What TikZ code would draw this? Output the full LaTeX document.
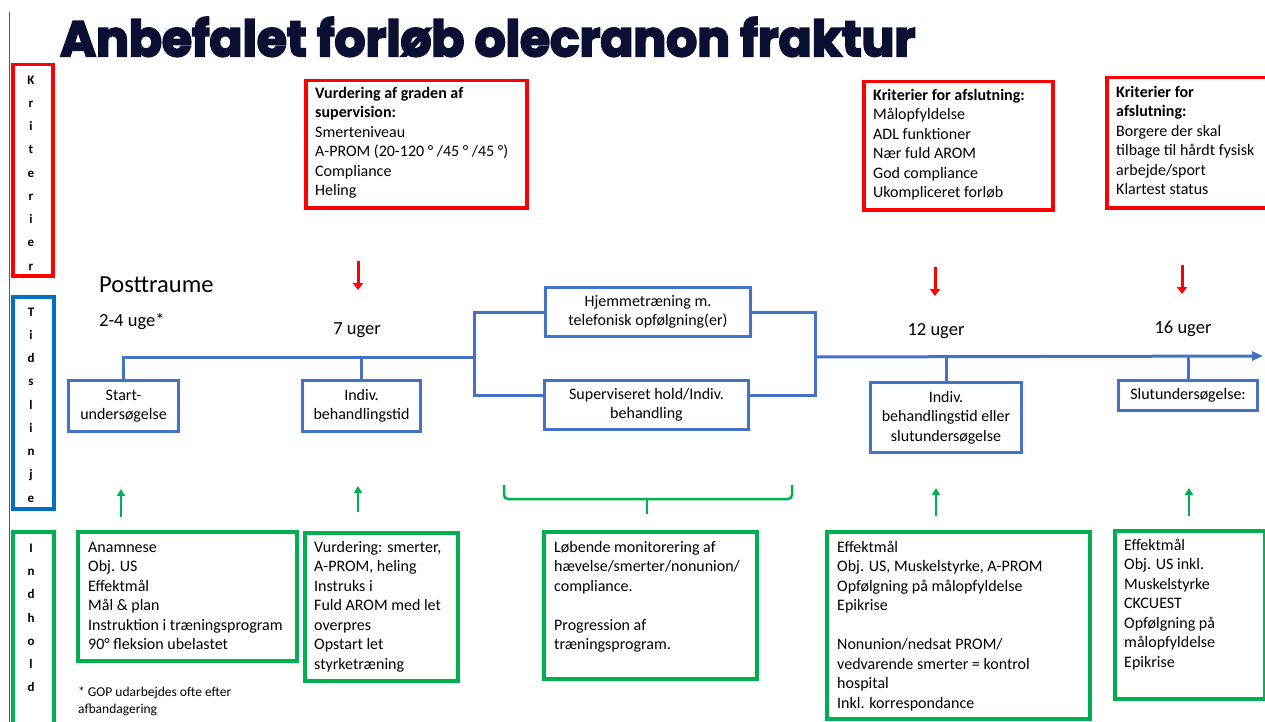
\documentclass[tikz,border=0pt]{standalone}
\usepackage{fontspec}
\setmainfont{Carlito}
\newfontfamily\titlefont{Poppins}[BoldFeatures={FakeBold=4}]
\usetikzlibrary{arrows.meta,calc}
\definecolor{kred}{HTML}{FF0000}
\definecolor{tblue}{HTML}{4472C4}
\definecolor{sblue}{HTML}{0070C0}
\definecolor{igreen}{HTML}{00B050}
\definecolor{titlec}{HTML}{0B1033}
\tikzset{
  bbox/.style={draw=tblue, line width=3pt, align=center, inner sep=0pt, anchor=north west, font=\fontsize{16}{19.5}\selectfont},
  rbox/.style={draw=kred, line width=3.5pt, anchor=north west, inner sep=0pt},
  gbox/.style={draw=igreen, line width=3.5pt, anchor=north west, inner sep=0pt},
  txt/.style={anchor=north west, inner sep=0pt, align=left, font=\fontsize{16}{19.5}\selectfont},
  lbl/.style={inner sep=0pt, font=\fontsize{18.5}{22}\selectfont},
  side/.style={inner sep=0pt, align=center, font=\bfseries\fontsize{13}{23.25}\selectfont},
  tline/.style={draw=tblue, line width=3pt},
  redarrow/.style={draw=kred, line width=3pt, -{Triangle[length=7pt,width=10pt]}},
  greenarrow/.style={draw=igreen, line width=2.5pt, -{Triangle[length=7pt,width=8pt]}},
}
\begin{document}
\begin{tikzpicture}[x=1pt,y=-1pt]
\clip (0,0) rectangle (1265,722);
\fill[white] (0,0) rectangle (1265,722);

% left rule
\coordinate (lt) at (9,12);
\coordinate (lb) at (9,722);
\draw[gray!70!black, line width=1pt] (lt) -- (lb);

% title
\node[anchor=north west, inner sep=0pt, text=titlec] (title) at (60,17)
  {\resizebox{855pt}{39pt}{\titlefont\bfseries Anbefalet forløb olecranon fraktur}};

% side boxes
\node[rbox, minimum width=40pt, minimum height=211pt] (kbox) at (11,63) {};
\node[side] (klab) at (31,173) {K\\r\\i\\t\\e\\r\\i\\e\\r};
\node[draw=sblue, line width=3.5pt, anchor=north west, inner sep=0pt, minimum width=41pt, minimum height=212pt] (tbox) at (11,295) {};
\node[side] (tlab) at (31,405) {T\\i\\d\\s\\l\\i\\n\\j\\e};
\node[gbox, minimum width=41pt, minimum height=200pt] (ibox) at (11,530) {};
\node[side] (ilab) at (31,618) {I\\n\\d\\h\\o\\l\\d};

% red criteria boxes
\node[rbox, minimum width=221pt, minimum height=127pt] (r1) at (304,79) {};
\node[txt] (r1t) at (315,84.3) {\strut\textbf{Vurdering af graden af}\\\textbf{supervision:}\\Smerteniveau\\A-PROM (20-120 ° /45 ° /45 °)\\Compliance\\Heling};
\node[rbox, minimum width=189pt, minimum height=128pt] (r2) at (862,80) {};
\node[txt] (r2t) at (873,86.3) {\strut\textbf{Kriterier for afslutning:}\\Målopfyldelse\\ADL funktioner\\Nær fuld AROM\\God compliance\\Ukompliceret forløb};
\node[rbox, minimum width=165pt, minimum height=130pt] (r3) at (1105,76) {};
\node[txt] (r3t) at (1116,83.3) {\strut\textbf{Kriterier for}\\\textbf{afslutning:}\\Borgere der skal\\tilbage til hårdt fysisk\\arbejde/sport\\Klartest status};

% red arrows
\coordinate (ra1s) at (358,261); \coordinate (ra1e) at (358,290);
\coordinate (ra2s) at (935,267); \coordinate (ra2e) at (935,296);
\coordinate (ra3s) at (1182,265); \coordinate (ra3e) at (1182,294);
\draw[redarrow] (ra1s) -- (ra1e);
\draw[redarrow] (ra2s) -- (ra2e);
\draw[redarrow] (ra3s) -- (ra3e);

% labels
\node[anchor=west, inner sep=0pt, font=\fontsize{24.5}{28}\selectfont] (post) at (99,285) {Posttraume};
\node[lbl, anchor=west] (u24) at (99,322) {2-4 uge*};
\node[lbl] (u7) at (357,330) {7 uger};
\node[lbl] (u12l) at (936,331) {12 uger};
\node[lbl] (u16l) at (1183,329) {16 uger};

% timeline boxes
\node[bbox, minimum width=110pt, minimum height=51pt] (start) at (67,379) {Start-\\undersøgelse};
\node[bbox, minimum width=118pt, minimum height=51pt] (indiv) at (301,379) {Indiv.\\behandlingstid};
\node[bbox, minimum width=205pt, minimum height=49pt] (hjem) at (544,286) {Hjemmetræning m.\\telefonisk opfølgning(er)};
\node[bbox, minimum width=204pt, minimum height=49pt] (sup) at (543,379) {Superviseret hold/Indiv.\\behandling};
\node[bbox, minimum width=151pt, minimum height=70pt] (u12) at (869,381) {Indiv.\\behandlingstid eller\\slutundersøgelse};
\node[bbox, minimum width=139pt, minimum height=30pt] (slut) at (1117,379) {Slutundersøgelse:};

% timeline lines
\coordinate (split) at (474,357);
\coordinate (bl) at (474,395);
\coordinate (join) at (815,357);
\coordinate (jb) at (815,395);
\coordinate (tend) at (1263,356);
\draw[tline] (start.north) |- (split);
\draw[tline] (indiv.north) -- (indiv.north |- split);
\draw[tline] (hjem.west) -| (split) -- (bl) -- (sup.west |- bl);
\draw[tline] (hjem.east) -| (join) -- (jb) -- (sup.east |- jb);
\draw[tline, -{Triangle[length=11pt,width=9pt]}] (join) -- (tend);
\draw[tline] (u12.north) -- (u12.north |- join);
\draw[tline] (slut.north) -- (slut.north |- join);

% green arrows
\coordinate (ga1s) at (121,517); \coordinate (ga1e) at (121,489);
\coordinate (ga2s) at (358,512); \coordinate (ga2e) at (358,486);
\coordinate (ga3s) at (936,516); \coordinate (ga3e) at (936,488);
\coordinate (ga4s) at (1189,516); \coordinate (ga4e) at (1189,488);
\draw[greenarrow] (ga1s) -- (ga1e);
\draw[greenarrow] (ga2s) -- (ga2e);
\draw[greenarrow] (ga3s) -- (ga3e);
\draw[greenarrow] (ga4s) -- (ga4e);

% brace
\coordinate (brl) at (504,485);
\coordinate (brr) at (792,485);
\coordinate (brm) at (647,499);
\coordinate (brt) at (647,514);
\draw[draw=igreen, line width=2.5pt, rounded corners=4pt] (brl) |- (brm) -| (brr);
\draw[draw=igreen, line width=2.5pt] (brm) -- (brt);

% green content boxes
\node[gbox, minimum width=219pt, minimum height=129pt] (g1) at (76,530) {};
\node[txt] (g1t) at (88,538.3) {\strut Anamnese\\Obj. US\\Effektmål\\Mål \& plan\\Instruktion i træningsprogram\\90° fleksion ubelastet};
\node[gbox, minimum width=153pt, minimum height=148pt] (g2) at (303,531) {};
\node[txt] (g2t) at (314,538.3) {\strut Vurdering: smerter,\\A-PROM, heling\\Instruks i\\Fuld AROM med let\\overpres\\Opstart let\\styrketræning};
\node[gbox, minimum width=213pt, minimum height=147pt] (g3) at (542,530) {};
\node[txt] (g3t) at (554,538.3) {\strut Løbende monitorering af\\hævelse/smerter/nonunion/\\compliance.\\[19.5pt]Progression af\\træningsprogram.};
\node[gbox, minimum width=263pt, minimum height=187pt] (g4) at (825,530) {};
\node[txt] (g4t) at (837,538.3) {\strut Effektmål\\Obj. US, Muskelstyrke, A-PROM\\Opfølgning på målopfyldelse\\Epikrise\\[19.5pt]Nonunion/nedsat PROM/\\vedvarende smerter = kontrol\\hospital\\Inkl. korrespondance};
\node[gbox, minimum width=150pt, minimum height=168pt] (g5) at (1113,529) {};
\node[txt] (g5t) at (1124,536.3) {\strut Effektmål\\Obj. US inkl.\\Muskelstyrke\\CKCUEST\\Opfølgning på\\målopfyldelse\\Epikrise};

% footnote
\node[anchor=north west, inner sep=0pt, align=left, font=\fontsize{13.5}{17}\selectfont] (fn) at (78,684) {\strut * GOP udarbejdes ofte efter\\afbandagering};
\end{tikzpicture}
\end{document}
